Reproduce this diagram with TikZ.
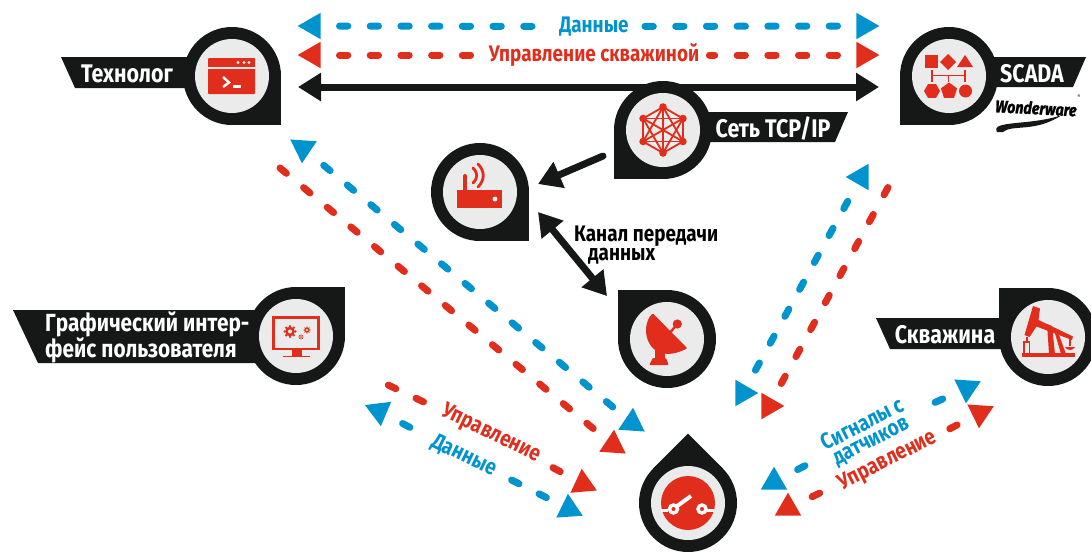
\documentclass[tikz,border=0pt]{standalone}
\usepackage{fontspec}
\setmainfont{Fira Sans}[FakeStretch=0.84]
\usetikzlibrary{arrows.meta, shapes.geometric, calc}
\tikzset{>={Triangle[length=23pt,width=27pt]}}
\definecolor{pinblack}{HTML}{161817}
\definecolor{pinface}{HTML}{EBEBEB}
\definecolor{wellred}{HTML}{E02D1C}
\definecolor{datablue}{HTML}{0094CE}
\newcommand{\droppin}[3]{
	\begin{scope}[shift={#2},rotate=#3]
		\fill[pinblack] (0,0) circle (49);
		\fill[pinblack] (0,0) rectangle (49,49);
	\end{scope}
	\node[pinface disc] (#1) at #2 {};
}
\newcommand{\gearmark}[2]{
	\foreach \a in {0,45,...,315} {
		\fill[wellred] ($#1+(\a:#2)$) circle (#2*0.24);
	}
	\fill[wellred] #1 circle (#2*0.9);
	\fill[pinface] #1 circle (#2*0.38);
}
\tikzset{
	pinface disc/.style = {circle, fill=pinface, minimum size=74pt, inner sep=0pt},
	tipmark/.style = {regular polygon, regular polygon sides=3, minimum size=30.6pt, inner sep=0pt},
	dashlink/.style = {line width=7pt, line cap=round, dash pattern=on 8.3pt off 22.4pt, shorten <=#1, shorten >=8pt},
	solidlink/.style = {pinblack, line width=7pt},
	ribbontext/.style = {text=white, font=\fontsize{25.5}{25}\selectfont\bfseries, inner sep=0pt},
	linklabel/.style = {font=\fontsize{22.5}{18}\selectfont\bfseries, inner sep=2pt, align=center},
	iconline/.style = {wellred, line width=1.8pt}
}

\begin{document}
\begin{tikzpicture}[x=1pt,y=-1pt]
	\path[use as bounding box,clip] (0,0) rectangle (1091,552);

	% Ribbons
	\fill[pinblack] (61,57) -- (232,57) -- (232,88) -- (75,88) -- cycle;
	\fill[pinblack] (949,57) -- (1086,57) -- (1073,87) -- (949,87) -- cycle;
	\fill[pinblack] (663,112) -- (848,112) -- (835,142) -- (663,142) -- cycle;
	\fill[pinblack] (13,310) -- (296,310) -- (296,363) -- (38,363) -- cycle;
	\fill[pinblack] (876,318) -- (1048,318) -- (1048,349) -- (890,349) -- cycle;

	% Pins
	\droppin{operator}{(232,76)}{0}
	\droppin{scada}{(949,76)}{270}
	\droppin{network}{(663,130)}{270}
	\droppin{router}{(480,192)}{0}
	\droppin{dish}{(667,339)}{180}
	\droppin{gui}{(296,336)}{90}
	\droppin{well}{(1048,337)}{180}
	\droppin{switch}{(688,503)}{135}

	% Ribbon texts
	\node[ribbontext] (operatortext) at (127,73.5) {Технолог};
	\node[ribbontext] (scadatext) at (1032,73.5) {SCADA};
	\node[ribbontext] (networktext) at (773,128.5) {Сеть TCP/IP};
	\node[ribbontext, font=\fontsize{24.8}{25}\selectfont\bfseries, align=left, anchor=west] (guitext) at (45,337) {Графический интер-\\фейс пользователя};
	\node[ribbontext] (welltext) at (945,334.5) {Скважина};

	% Wonderware
	\node[inner sep=0pt, rotate=-3, font=\fontsize{17}{17}\selectfont\bfseries\itshape\addfontfeatures{FakeBold=1.5}] (wonderlogo) at (1036,108) {Wonderware};
	\node[inner sep=0pt, font=\fontsize{5}{5}\selectfont] (wonderreg) at (1079,97) {®};
	\fill[pinblack] (997,132) .. controls (990,120) and (1030,126) .. (1062,115) .. controls (1035,133) and (1012,124) .. (1003,132) -- cycle;

	% Top links
	\node[tipmark, fill=datablue, rotate=90] (datatipl) at (313,26) {};
	\node[tipmark, fill=datablue, rotate=-90] (datatipr) at (864,26) {};
	\node[tipmark, fill=wellred, rotate=90] (ctrltipl) at (313,55) {};
	\node[tipmark, fill=wellred, rotate=-90] (ctrltipr) at (864,55) {};
	\node[linklabel, text=datablue] (datalabel) at (594,26.5) {Данные};
	\node[linklabel, text=wellred] (ctrllabel) at (594,55) {Управление скважиной};
	\draw[dashlink=26.5pt, datablue] (datatipl.center) -- (datalabel);
	\draw[dashlink=26.5pt, datablue] (datatipr.center) -- (datalabel);
	\draw[dashlink=26.5pt, wellred] (ctrltipl.center) -- (ctrllabel);
	\draw[dashlink=26.5pt, wellred] (ctrltipr.center) -- (ctrllabel);
	\coordinate (lanl) at (298,87);
	\coordinate (lanr) at (879,87);
	\draw[solidlink, <->] (lanl) -- (lanr);

	% Center links
	\coordinate (netout) at (603,156);
	\coordinate (routerin) at (538,184);
	\draw[solidlink, line cap=round, ->] (netout) -- (routerin);
	\coordinate (routerend) at (538,212);
	\coordinate (dishend) at (607,296);
	\draw[solidlink, <->] (routerend) -- (dishend);
	\node[font=\fontsize{22.5}{17}\selectfont\bfseries, align=left, anchor=north west, inner sep=0pt] (channeltext) at (574,226) {Канал передачи\\\hspace*{14pt}данных};

	% Operator to switch
	\node[tipmark, fill=datablue, rotate=176] (opdatatip) at (303,148) {};
	\node[tipmark, fill=datablue, rotate=-4] (swdatatip) at (632,423) {};
	\node[tipmark, fill=wellred, rotate=-4] (swctrltip) at (613,445) {};
	\coordinate (opctrlend) at (280,168);
	\draw[dashlink=27pt, datablue] (opdatatip.center) -- (swdatatip.center);
	\draw[dashlink=0pt, wellred] (opctrlend) -- (swctrltip.center);

	% GUI to switch
	\node[tipmark, fill=datablue, rotate=187] (guidatatip) at (379,411) {};
	\node[tipmark, fill=datablue, rotate=4] (guiswdatatip) at (569,509) {};
	\node[tipmark, fill=wellred, rotate=5] (guiswctrltip) at (583,484) {};
	\coordinate (guictrlend) at (388.3,385.1);
	\node[linklabel, text=wellred, rotate=-26] (guictrllabel) at (491,434) {Управление};
	\node[linklabel, text=datablue, rotate=-26] (guidatalabel) at (464,456) {Данные};
	\draw[dashlink=0pt, wellred] (guictrlend) -- (guictrllabel);
	\draw[dashlink=25.9pt, wellred] (guiswctrltip.center) -- (guictrllabel);
	\draw[dashlink=26.7pt, datablue] (guidatatip.center) -- (guidatalabel);
	\draw[dashlink=25.3pt, datablue] (guiswdatatip.center) -- (guidatalabel);

	% SCADA to switch
	\node[tipmark, fill=datablue, rotate=90] (scdatatip) at (861,177) {};
	\node[tipmark, fill=datablue, rotate=-90] (scswdatatip) at (743,393) {};
	\node[tipmark, fill=wellred, rotate=-90] (scswctrltip) at (769,406) {};
	\coordinate (scctrlend) at (888,187.5);
	\draw[dashlink=27.7pt, datablue] (scdatatip.center) -- (scswdatatip.center);
	\draw[dashlink=0pt, wellred] (scctrlend) -- (scswctrltip.center);

	% Well to switch
	\node[tipmark, fill=datablue, rotate=176] (wldatatip) at (967,388) {};
	\node[tipmark, fill=wellred, rotate=176] (wlctrltip) at (980,413) {};
	\node[tipmark, fill=datablue] (wlswdatatip) at (774,482) {};
	\node[tipmark, fill=wellred] (wlswctrltip) at (788,508) {};
	\node[linklabel, text=datablue, rotate=27] (wldatalabel) at (867,433) {Сигналы с\\датчиков};
	\node[linklabel, text=wellred, rotate=27] (wlctrllabel) at (888,461) {Управление};
	\draw[dashlink=26.7pt, datablue] (wldatatip.center) -- (wldatalabel);
	\draw[dashlink=26.7pt, datablue] (wlswdatatip.center) -- (wldatalabel);
	\draw[dashlink=25.8pt, wellred] (wlctrltip.center) -- (wlctrllabel);
	\draw[dashlink=26.7pt, wellred] (wlswctrltip.center) -- (wlctrllabel);

	% Icon operator
	\fill[wellred, rounded corners=1pt] (208,58) rectangle (255,94);
	\draw[pinface, line width=1.4pt] (208,68) -- (255,68);
	\foreach \x in {238,244,249} {
		\fill[pinface] (\x,62.5) circle (1.6);
	}
	\draw[white, line width=2.4pt] (223,77) -- (229,82.5) -- (223,87);
	\draw[white, line width=2.4pt] (233,86.5) -- (241,86.5);

	% Icon scada
	\fill[wellred] (925,55) rectangle (938,68);
	\fill[wellred] (948,54) -- (956,62) -- (948,70) -- (940,62) -- cycle;
	\fill[wellred] (965,55) -- (973,67) -- (957,67) -- cycle;
	\draw[iconline] (932,70) -- (932,82) (965,70) -- (965,82) (932,75.5) -- (965,75.5) (948.5,75.5) -- (948.5,82);
	\node[regular polygon, regular polygon sides=6, fill=wellred, minimum size=16pt, inner sep=0pt] (scadahex) at (932,91) {};
	\node[regular polygon, regular polygon sides=5, fill=wellred, minimum size=17pt, inner sep=0pt] (scadapent) at (949,91) {};
	\fill[wellred] (965.5,91) circle (6.5);

	% Icon network
	\foreach \a/\na in {30/a,90/b,150/c,210/d,270/e,330/f} {
		\coordinate (net\na) at ($(network)+(\a:23)$);
		\fill[wellred] (net\na) circle (3.8);
	}
	\foreach \s/\t in {a/b,b/c,c/d,d/e,e/f,f/a,a/c,c/e,e/a,b/d,d/f,f/b,a/d,b/e,c/f} {
		\draw[iconline] (net\s) -- (net\t);
	}

	% Icon router
	\fill[wellred] (457,190) rectangle (502,208);
	\fill[white] (495,199) circle (2.4);
	\draw[wellred, line width=4pt, line cap=round] (465,176) -- (465,190);
	\draw[wellred, line width=2.8pt, line cap=round] (473,168) .. controls (478,173) and (478,178) .. (473,183);
	\draw[wellred, line width=2.8pt, line cap=round] (478,164) .. controls (485,171) and (485,180) .. (478,187);

	% Icon dish
	\fill[wellred, rounded corners=1pt] (652.7,313.3) .. controls (638,328) and (648,368) .. (687.3,348.3) -- cycle;
	\fill[wellred] (677.3,324) circle (4.6);
	\draw[wellred, line width=2.4pt] (677.3,324) -- (668,335);
	\fill[wellred] (655,350) rectangle (665,360);
	\fill[wellred, rounded corners=1pt] (652.7,358) -- (666,358) -- (668.7,365) -- (649.3,365) -- cycle;

	% Icon gui
	\draw[wellred, line width=2.6pt, fill=pinface] (273.5,317.5) rectangle (318.5,349);
	\fill[wellred] (292,349) rectangle (302,356);
	\draw[wellred, line width=1.8pt] (283,356.5) -- (310,356.5);
	\gearmark{(290,331.5)}{5.4}
	\gearmark{(307,330)}{2.9}
	\gearmark{(301,337)}{2.1}

	% Icon well
	\fill[wellred] (1033,306) -- (1040,308.5) -- (1038.5,320) -- (1073,336.5) -- (1072,340) -- (1036.5,326.5) -- (1029.5,337) -- (1024.5,335) -- cycle;
	\fill[wellred] (1047,324) -- (1052,326) -- (1055,354) -- (1049,354) -- cycle;
	\fill[wellred] (1054,330) -- (1058,332) -- (1066,354) -- (1061,354) -- cycle;
	\fill[wellred] (1022,353) rectangle (1075,357);
	\draw[iconline] (1024,353) -- (1024,342) -- (1029.5,342) -- (1029.5,353);
	\draw[iconline] (1027,337) -- (1027,342);
	\draw[iconline] (1070,339) -- (1070,346);
	\fill[wellred] (1065,347) .. controls (1067,351) and (1073,351) .. (1075,347) -- cycle;

	% Icon switch
	\fill[wellred] (switch) circle (27);
	\draw[white, line width=2.2pt] (661,510.5) -- (668,510.5) (707,510.5) -- (714,510.5);
	\draw[white, line width=4pt] (673,509) -- (691,496);
	\draw[white, line width=3.4pt, fill=wellred] (673.5,509) circle (4);
	\draw[white, line width=3.4pt, fill=wellred] (702,509) circle (4);
\end{tikzpicture}
\end{document}
